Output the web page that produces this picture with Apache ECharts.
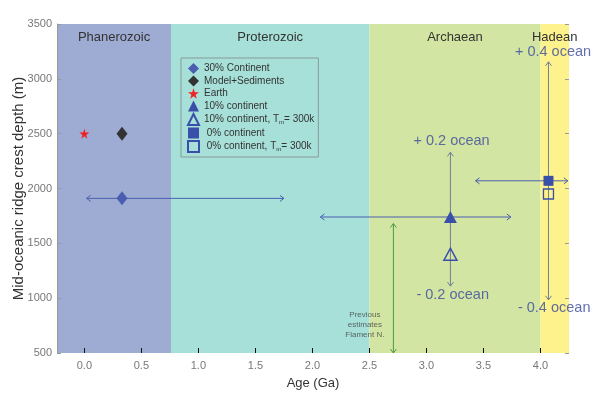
<!DOCTYPE html>
<html>
<head>
<meta charset="utf-8">
<script src="https://cdn.jsdelivr.net/npm/echarts@6/dist/echarts.min.js"></script>
<style>html,body{margin:0;padding:0;background:#fff}#c{width:600px;height:395px}</style>
</head>
<body>
<div id="c"></div>
<script>
// ---- data ----
const eraNames = ['Phanerozoic', 'Proterozoic', 'Archaean', 'Hadean'];
const eraStart = [-0.24, 0.76, 2.5, 4.0];
const eraEnd = [0.76, 2.5, 4.0, 4.25];
const eraColors = ['#9eabd2', '#a6e0d8', '#d3e5a2', '#fdf28c'];

const xTicks = [0, 0.5, 1.0, 1.5, 2.0, 2.5, 3.0, 3.5, 4.0];

const earth = [[0, 2500]];
const modelSed = [[0.33, 2500]];
const cont30 = [[0.33, 1910]];
const cont10 = [[3.21, 1740]];
const cont10Tm = [[3.21, 1400]];
const cont0 = [[4.07, 2070]];
const cont0Tm = [[4.07, 1950]];

// arrows: [x1, y1, x2, y2]
const blueArrows = [
  [0.02, 1910, 1.75, 1910],
  [2.07, 1740, 3.74, 1740],
  [3.43, 2070, 4.24, 2070]
];
const grayArrows = [
  [3.21, 1110, 3.21, 2330],
  [4.07, 985, 4.07, 3155]
];
const greenArrows = [
  [2.71, 500, 2.71, 1680]
];

// annotations: [x, y, text]
const oceanNotes = [
  [3.22, 2435, '+ 0.2 ocean'],
  [3.23, 1030, '- 0.2 ocean'],
  [4.11, 3245, '+ 0.4 ocean'],
  [4.12, 910, '- 0.4 ocean']
];
const prevNote = [[2.46, 760, 'Previous\nestimates\nFlament N.']];

// ---- chart ----
const chart = echarts.init(document.getElementById('c'));
const FONT = 'Liberation Sans, Arial, sans-serif';
const starPath = 'path://M50,0 L61,35 L98,35 L68,57 L79,91 L50,70 L21,91 L32,57 L2,35 L39,35 Z';

function arrowRender(color) {
  return function (params, api) {
    const p1 = api.coord([api.value(0), api.value(1)]);
    const p2 = api.coord([api.value(2), api.value(3)]);
    const dx = p2[0] - p1[0], dy = p2[1] - p1[1];
    const len = Math.sqrt(dx * dx + dy * dy) || 1;
    const ux = dx / len, uy = dy / len;
    const px = -uy, py = ux;
    const L = 4, W = 3;
    function head(p, s) {
      const bx = p[0] - s * ux * L, by = p[1] - s * uy * L;
      return [[bx + px * W, by + py * W], p, [bx - px * W, by - py * W]];
    }
    const st = { stroke: color, lineWidth: 1, fill: null };
    return {
      type: 'group',
      children: [
        { type: 'line', shape: { x1: p1[0], y1: p1[1], x2: p2[0], y2: p2[1] }, style: st },
        { type: 'polyline', shape: { points: head(p1, -1) }, style: st },
        { type: 'polyline', shape: { points: head(p2, 1) }, style: st }
      ]
    };
  };
}

const blue = '#3a4fa8';
const option = {
  animation: false,
  backgroundColor: '#ffffff',
  textStyle: { fontFamily: FONT },
  grid: { left: 57, right: 31, top: 24, bottom: 42, containLabel: false, outerBoundsMode: 'none' },
  xAxis: {
    type: 'value', min: -0.24, max: 4.25, z: 10,
    name: 'Age (Ga)', nameLocation: 'middle', nameGap: 24, nameMoveOverlap: false,
    nameTextStyle: { fontSize: 13, color: '#333', fontFamily: FONT },
    axisLine: { show: true, onZero: false, lineStyle: { color: 'rgba(0,0,0,0)' } },
    axisTick: { show: true, inside: true, length: 5, customValues: xTicks, lineStyle: { color: '#111', width: 1 } },
    axisLabel: { customValues: xTicks, color: '#777', fontSize: 11, margin: 7, formatter: v => v.toFixed(1) },
    splitLine: { show: false }
  },
  yAxis: [{
    type: 'value', min: 500, max: 3500, interval: 500, z: 10,
    name: 'Mid-oceanic ridge crest depth (m)', nameLocation: 'middle', nameGap: 31, nameMoveOverlap: false,
    nameTextStyle: { fontSize: 15, color: '#333', fontFamily: FONT },
    axisLine: { show: true, onZero: false, lineStyle: { color: '#999', width: 1 } },
    axisTick: { show: true, inside: true, length: 4, lineStyle: { color: '#999' } },
    axisLabel: { color: '#777', fontSize: 11, margin: 5, formatter: v => String(v) },
    splitLine: { show: false }
  }, {
    type: 'value', min: 500, max: 3500, interval: 500, position: 'right', z: 10,
    axisLine: { show: false, onZero: false },
    axisTick: { show: true, inside: true, length: 4, lineStyle: { color: '#999' } },
    axisLabel: { show: false },
    splitLine: { show: false }
  }],
  legend: {
    orient: 'vertical', left: 181, top: 58,
    padding: [5, 4, 4, 6], itemGap: 1.5, itemWidth: 11, itemHeight: 11, itemTextGap: 10,
    backgroundColor: eraColors[1], borderColor: '#8a9a9a', borderWidth: 1,
    textStyle: { fontSize: 10, color: '#333', fontFamily: FONT, lineHeight: 11,
      rich: { sub: { fontSize: 6, color: '#333', lineHeight: 11, verticalAlign: 'bottom' } } },
    formatter: function (name) {
      return name.replace('Tm', 'T{sub|m}');
    },
    data: ['30% Continent', 'Model+Sediments', 'Earth', '10% continent', '10% continent, Tm= 300k', ' 0% continent', ' 0% continent, Tm= 300k']
  },
  series: [
    {
      type: 'scatter', name: 'eras', data: [], silent: true, legendHoverLink: false, z: -5,
      markArea: {
        silent: true,
        label: { show: true, position: 'insideTop', distance: 7, color: '#333', fontSize: 13, fontFamily: FONT },
        data: eraNames.map((n, i) => [
          { name: n, xAxis: eraStart[i], itemStyle: { color: eraColors[i], opacity: 1 } },
          { xAxis: eraEnd[i] }
        ])
      }
    },
    { type: 'custom', name: 'arrowsBlue', renderItem: arrowRender('#4a5fb0'), data: blueArrows, silent: true, z: 3 },
    { type: 'custom', name: 'arrowsGray', renderItem: arrowRender('#6f7f98'), data: grayArrows, silent: true, z: 3 },
    { type: 'custom', name: 'arrowsGreen', renderItem: arrowRender('#4a9a48'), data: greenArrows, silent: true, z: 3 },
    { type: 'scatter', name: '30% Continent', data: cont30, symbol: 'diamond', symbolSize: [11, 14], itemStyle: { color: '#4a5db0', opacity: 1 }, z: 5 },
    { type: 'scatter', name: 'Model+Sediments', data: modelSed, symbol: 'diamond', symbolSize: [11, 14], itemStyle: { color: '#333333', opacity: 1 }, z: 5 },
    { type: 'scatter', name: 'Earth', data: earth, symbol: starPath, symbolSize: 10, itemStyle: { color: '#ee2222', opacity: 1 }, z: 5 },
    { type: 'scatter', name: '10% continent', data: cont10, symbol: 'triangle', symbolSize: [13, 12], itemStyle: { color: blue, opacity: 1 }, z: 5 },
    { type: 'scatter', name: '10% continent, Tm= 300k', data: cont10Tm, symbol: 'triangle', symbolSize: [13, 12], itemStyle: { color: 'rgba(0,0,0,0)', borderColor: blue, borderWidth: 1.5, opacity: 1 }, z: 5 },
    { type: 'scatter', name: ' 0% continent', data: cont0, symbol: 'rect', symbolSize: 10, itemStyle: { color: blue, opacity: 1 }, z: 5 },
    { type: 'scatter', name: ' 0% continent, Tm= 300k', data: cont0Tm, symbol: 'rect', symbolSize: 10, itemStyle: { color: 'rgba(0,0,0,0)', borderColor: blue, borderWidth: 1.3, opacity: 1 }, z: 5 },
    {
      type: 'scatter', name: 'notes', data: oceanNotes, symbolSize: 0, silent: true, z: 6,
      label: { show: true, position: 'inside', formatter: p => p.data[2], color: '#3a4a9c', fontSize: 14.5, fontFamily: FONT }
    },
    {
      type: 'scatter', name: 'prev', data: prevNote, symbolSize: 0, silent: true, z: 6,
      label: { show: true, position: 'inside', formatter: p => p.data[2], color: '#444', fontSize: 8, lineHeight: 10, align: 'center', fontFamily: FONT }
    }
  ]
};
chart.setOption(option);
</script>
</body>
</html>
